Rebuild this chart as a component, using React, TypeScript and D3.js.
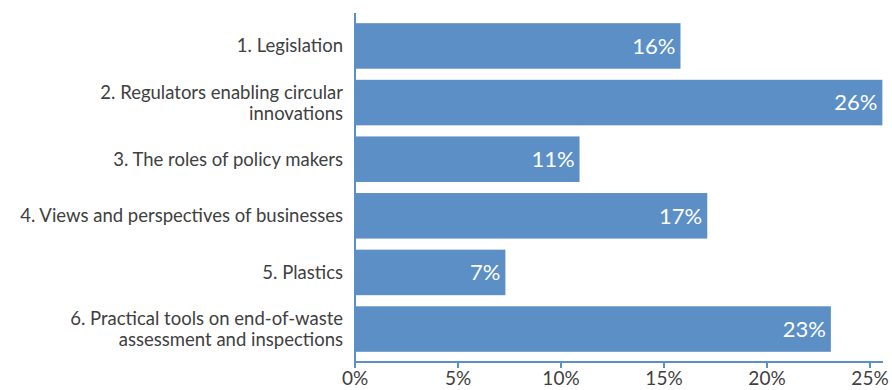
import React from "react";
import * as d3 from "d3";

const categories: string[][] = [
  ["1. Legislation"],
  ["2. Regulators enabling circular", "innovations"],
  ["3. The roles of policy makers"],
  ["4. Views and perspectives of businesses"],
  ["5. Plastics"],
  ["6. Practical tools on end-of-waste", "assessment and inspections"],
];
const values: number[] = [15.8, 25.6, 10.9, 17.1, 7.3, 23.1];
const barLabels: string[] = ["16%", "26%", "11%", "17%", "7%", "23%"];
const xTicks: number[] = [0, 5, 10, 15, 20, 25];

const W = 892;
const H = 390;
const BAR = "#5b8fc6";
const AXIS = "#5b8fc6";
const FONT = "Lato, 'Open Sans', sans-serif";

export default function App() {
  const x = d3.scaleLinear().domain([0, 25]).range([355, 870]);
  const y = d3
    .scaleBand<number>()
    .domain(d3.range(values.length))
    .range([13, 362])
    .paddingInner(0.196)
    .paddingOuter(0.18);
  const bw = y.bandwidth();
  const axisY = 362;

  return (
    <div style={{ position: "absolute", left: 0, top: 0 }}>
      <svg width={W} height={H} style={{ display: "block", background: "#fff" }}>
        {values.map((v, i) => (
          <rect
            key={"b" + i}
            x={x(0)}
            y={y(i)!}
            width={x(v) - x(0)}
            height={bw}
            fill={BAR}
          />
        ))}
        {values.map((v, i) => (
          <text
            key={"l" + i}
            x={x(v) - 5}
            y={y(i)! + bw / 2}
            dy="0.36em"
            textAnchor="end"
            fill="#fff"
            fontFamily={FONT}
            fontSize={22}
          >
            {barLabels[i]}
          </text>
        ))}
        {categories.map((lines, i) => {
          const cy = y(i)! + bw / 2;
          const lh = 21;
          const start = cy - ((lines.length - 1) * lh) / 2;
          return (
            <text
              key={"c" + i}
              x={343}
              textAnchor="end"
              fill="#404040"
              fontFamily={FONT}
              fontSize={18.5}
            >
              {lines.map((ln, j) => (
                <tspan key={j} x={343} y={start + j * lh} dy="0.35em">
                  {ln}
                </tspan>
              ))}
            </text>
          );
        })}
        <line x1={x(0)} x2={x(0)} y1={13} y2={axisY} stroke={AXIS} strokeWidth={2} />
        <line x1={x(0)} x2={883} y1={axisY} y2={axisY} stroke={AXIS} strokeWidth={2} />
        {xTicks.map((t) => (
          <g key={"t" + t}>
            <line x1={x(t)} x2={x(t)} y1={axisY} y2={axisY + 6} stroke={AXIS} strokeWidth={2} />
            <text
              x={x(t)}
              y={385}
              textAnchor="middle"
              fill="#404040"
              fontFamily={FONT}
              fontSize={19}
            >
              {t + "%"}
            </text>
          </g>
        ))}
      </svg>
    </div>
  );
}
